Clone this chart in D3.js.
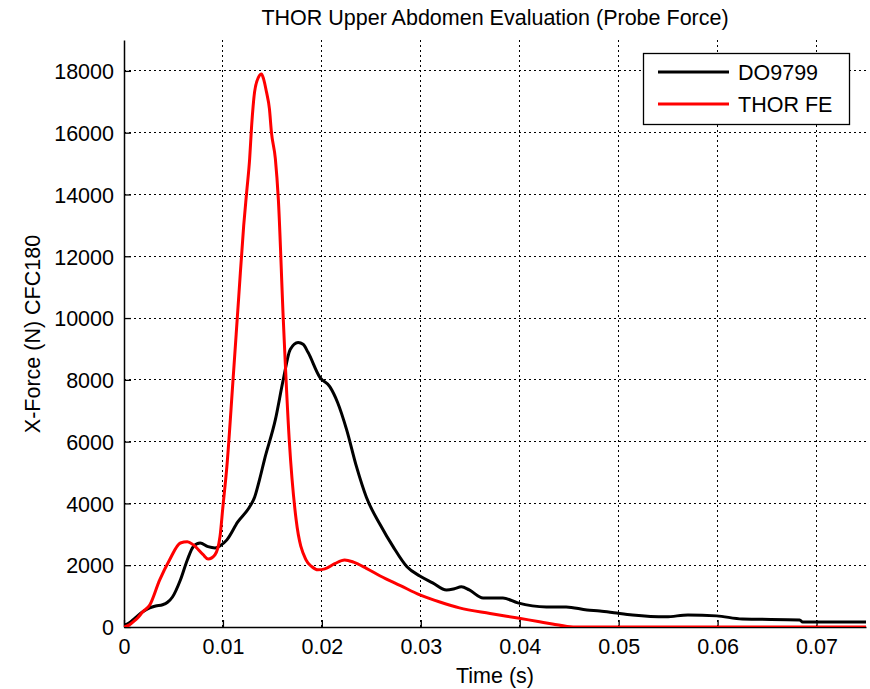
<!DOCTYPE html>
<html><head><meta charset="utf-8">
<script src="https://cdn.jsdelivr.net/npm/d3@7"></script>
<style>
body{margin:0;background:#fff;}
svg{display:block;font-family:"Liberation Sans",Arial,sans-serif;}
</style></head>
<body><svg id="c" width="870" height="689"></svg>
<script>
const title = "THOR Upper Abdomen Evaluation (Probe Force)";
const xLabel = "Time (s)";
const yLabel = "X-Force (N) CFC180";
const seriesNames = ["DO9799", "THOR FE"];
const seriesColors = ["#000000", "#ff0000"];
const xTicks = [0,0.01,0.02,0.03,0.04,0.05,0.06,0.07];
const yTicks = [0,2000,4000,6000,8000,10000,12000,14000,16000,18000];

const do9799 = [[0,60],[0.0005,130],[0.0009,230],[0.0014,370],[0.0019,490],[0.0026,620],[0.0032,680],[0.0039,720],[0.0044,800],[0.0049,970],[0.0057,1520],[0.0064,2170],[0.0070,2600],[0.0077,2720],[0.0085,2600],[0.0092,2560],[0.0098,2650],[0.0104,2820],[0.0115,3400],[0.0127,3890],[0.0132,4200],[0.0137,4770],[0.0142,5420],[0.0153,6710],[0.0161,8010],[0.0168,8980],[0.0176,9210],[0.0181,9150],[0.0186,8890],[0.0198,8080],[0.0208,7780],[0.0216,7260],[0.0225,6390],[0.0235,5190],[0.0245,4200],[0.0259,3310],[0.0272,2600],[0.0286,1950],[0.0299,1650],[0.0312,1430],[0.0326,1200],[0.0334,1240],[0.0341,1300],[0.0349,1200],[0.0363,940],[0.0383,940],[0.0398,780],[0.0427,650],[0.0447,650],[0.0468,550],[0.0481,520],[0.0498,450],[0.0514,390],[0.0548,330],[0.0570,390],[0.0599,360],[0.0625,260],[0.0683,230],[0.0686,160],[0.0750,160]];

const thorFE = [[0,0],[0.0005,60],[0.0009,160],[0.0014,300],[0.0019,490],[0.0026,710],[0.0036,1520],[0.0046,2170],[0.0057,2720],[0.0064,2760],[0.0070,2660],[0.0080,2340],[0.0085,2200],[0.0092,2340],[0.0097,2920],[0.0100,3900],[0.0104,5200],[0.0110,7900],[0.0116,10700],[0.0121,13000],[0.0124,14080],[0.0127,15150],[0.0129,16220],[0.0132,17320],[0.0136,17800],[0.0139,17900],[0.0141,17750],[0.0144,17320],[0.0147,16770],[0.0149,16020],[0.0153,15150],[0.0156,13850],[0.0161,9960],[0.0167,6070],[0.0174,3470],[0.0184,2170],[0.0190,1950],[0.0196,1850],[0.0203,1880],[0.0213,2050],[0.0223,2170],[0.0232,2100],[0.0245,1900],[0.0259,1650],[0.0280,1330],[0.0299,1040],[0.0320,800],[0.0339,620],[0.0370,440],[0.0398,290],[0.0420,170],[0.0433,100],[0.0454,0],[0.0750,0]];

const svg = d3.select("#c");
const L=124, R=866, T=40, B=627;
const FS = "21.5px";
const x = d3.scaleLinear().domain([0,0.075]).range([L,R]);
const y = d3.scaleLinear().domain([0,19000]).range([B,T]);

// grid
const g = svg.append("g");
g.selectAll(".vg").data(xTicks.filter(d=>d>0)).enter().append("line")
  .attr("x1",d=>x(d)).attr("x2",d=>x(d)).attr("y1",B).attr("y2",T)
  .attr("stroke","#000").attr("stroke-width",1).attr("stroke-dasharray","2,3").attr("shape-rendering","crispEdges");
g.selectAll(".hg").data(yTicks.filter(d=>d>0)).enter().append("line")
  .attr("x1",L).attr("x2",R).attr("y1",d=>y(d)).attr("y2",d=>y(d))
  .attr("stroke","#000").attr("stroke-width",1).attr("stroke-dasharray","2,3").attr("shape-rendering","crispEdges");

// axes
const xAxis = d3.axisBottom(x).tickValues(xTicks).tickFormat(d=>d===0?"0":d3.format(".2~f")(d)).tickSizeInner(-7).tickSizeOuter(0).tickPadding(12);
const yAxis = d3.axisLeft(y).tickValues(yTicks).tickFormat(d3.format("d")).tickSizeInner(-7).tickSizeOuter(0).tickPadding(10);
const gx = svg.append("g").attr("transform",`translate(0,${B})`).call(xAxis);
const gy = svg.append("g").attr("transform",`translate(${L},0)`).call(yAxis);
[gx,gy].forEach(a=>{
  a.selectAll("text").attr("font-size",FS).attr("fill","#000").attr("font-family","Liberation Sans, Arial, sans-serif");
  a.selectAll("line").attr("stroke","#000").attr("stroke-width",1.3);
  a.select(".domain").attr("stroke","#000").attr("stroke-width",1.5);
});
gx.selectAll("text").attr("dy","0.72em");
gy.selectAll("text").attr("dy","0.36em");

// clip
svg.append("clipPath").attr("id","clip").append("rect").attr("x",L).attr("y",T-5).attr("width",R-L).attr("height",B-T+5);

const line = d3.line().x(d=>x(d[0])).y(d=>y(d[1])).curve(d3.curveMonotoneX);
const series = [do9799, thorFE];
svg.append("g").attr("clip-path","url(#clip)").selectAll("path").data(series).enter().append("path")
  .attr("d",line).attr("fill","none").attr("stroke",(d,i)=>seriesColors[i]).attr("stroke-width",3)
  .attr("stroke-linejoin","round");

// title & labels
svg.append("text").attr("x",495).attr("y",25).attr("text-anchor","middle").attr("font-size",FS).text(title);
svg.append("text").attr("x",495).attr("y",683).attr("text-anchor","middle").attr("font-size",FS).text(xLabel);
svg.append("text").attr("transform","translate(40,334) rotate(-90)").attr("text-anchor","middle").attr("font-size",FS).text(yLabel);

// legend
const lg = svg.append("g");
lg.append("rect").attr("x",643.5).attr("y",53.5).attr("width",206).attr("height",71).attr("fill","#fff").attr("stroke","#000").attr("stroke-width",1.3);
seriesNames.forEach((n,i)=>{
  const ly = 72 + i*32;
  lg.append("line").attr("x1",658).attr("x2",729).attr("y1",ly).attr("y2",ly).attr("stroke",seriesColors[i]).attr("stroke-width",3);
  lg.append("text").attr("x",738).attr("y",ly).attr("dy","0.36em").attr("font-size",FS).text(n);
});
</script></body></html>
